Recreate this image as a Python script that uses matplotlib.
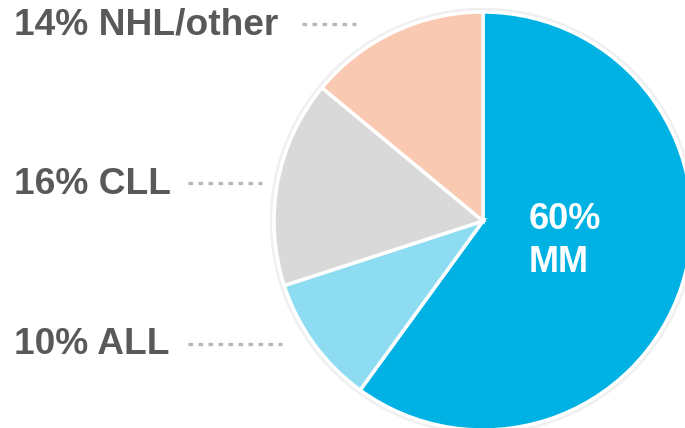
import matplotlib.pyplot as plt
from matplotlib.patches import Circle

# shares of the pie, clockwise from 12 o'clock
names = ["MM", "ALL", "CLL", "NHL/other"]
shares = [60, 10, 16, 14]
colors = ["#00B2E3", "#8DDCF2", "#D9D9D9", "#F9C9B1"]

W, H = 685, 428
fig = plt.figure(figsize=(W / 100, H / 100), dpi=100)
ax = fig.add_axes([0, 0, 1, 1])

cx, cy, r = 483, H - 221, 209

# faint halo round the pie
ax.add_patch(Circle((cx, cy), r + 3.5, color="#F0F0F0", zorder=0))

ax.pie(shares, colors=colors, startangle=90, counterclock=False,
       center=(cx, cy), radius=r, frame=True,
       wedgeprops=dict(edgecolor="white", linewidth=2.5))
ax.set_xlim(0, W)
ax.set_ylim(0, H)
ax.set_aspect("equal")
ax.axis("off")

font = ["Liberation Sans", "DejaVu Sans"]
grey = "#595959"
dots = "#B8B8B8"

# outside labels with dotted leaders: (name index, text y, leader x0, x1)
side = [(3, 25, 302, 356), (2, 184, 188, 262), (1, 345, 188, 282)]
for i, ty, x0, x1 in side:
    ax.text(14, H - ty, f"{shares[i]}% {names[i]}", fontsize=26.7, fontweight="bold",
            color=grey, family=font, ha="left", va="center")
    ax.plot([x0, x1], [H - ty + 1, H - ty + 1], color=dots, lw=2.4,
            linestyle=(0, (1.4, 1.6)), solid_capstyle="butt")

ax.text(529, H - 241, f"{shares[0]}%\n{names[0]}", fontsize=26, fontweight="bold",
        color="white", family=font, ha="left", va="center", linespacing=1.32)

fig.savefig("out.png", dpi=100)
